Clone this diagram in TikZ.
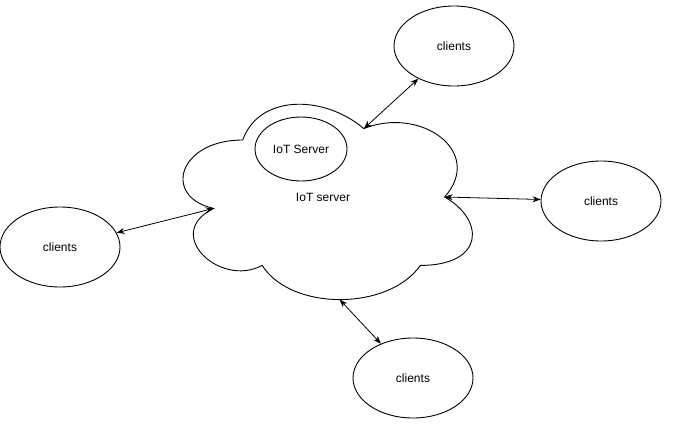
\documentclass[tikz,border=0pt]{standalone}
\usepackage{fontspec}
\setmainfont{Liberation Sans}
\usetikzlibrary{shapes.geometric,arrows.meta}
\begin{document}
\begin{tikzpicture}[x=1pt,y=-1pt,line width=0.9pt,
  client/.style={ellipse,draw,minimum width=120pt,minimum height=80pt,inner sep=0pt,font=\fontsize{12}{14}\selectfont},
  link/.style={{Stealth[length=8pt,width=6pt]}-{Stealth[length=8pt,width=6pt]},line width=0.8pt}]
\useasboundingbox (0,0) rectangle (682,434);
% cloud bounding box x0=162, y0=83, w=323, h=228
\begin{scope}[shift={(162,83)},x=323pt,y=-228pt]
\draw (0.25,0.25) .. controls (0.05,0.25) and (0,0.5) .. (0.16,0.55)
  .. controls (0,0.66) and (0.18,0.9) .. (0.31,0.8)
  .. controls (0.4,1) and (0.7,1) .. (0.8,0.8)
  .. controls (1,0.8) and (1,0.6) .. (0.875,0.5)
  .. controls (1,0.3) and (0.8,0.1) .. (0.625,0.2)
  .. controls (0.5,0.05) and (0.3,0.05) .. (0.25,0.25) -- cycle;
\coordinate (ctop) at (0.625,0.2);
\coordinate (cright) at (0.875,0.5);
\coordinate (cleft) at (0.16,0.55);
\coordinate (cbottom) at (0.55,0.95);
\end{scope}
\node[ellipse,draw,minimum width=92pt,minimum height=64pt,inner sep=0pt,font=\fontsize{12}{14}\selectfont] (srv) at (301,149) {IoT Server};
\node[font=\fontsize{12}{14}\selectfont] (cloudlabel) at (323,197) {IoT server};
\node[client] (c1) at (454,46) {clients};
\node[client] (c2) at (601,201) {clients};
\node[client] (c3) at (60,247) {clients};
\node[client] (c4) at (413,378) {clients};
\draw[link] (ctop) -- (c1);
\draw[link] (cright) -- (c2);
\draw[link] (cleft) -- (c3);
\draw[link] (cbottom) -- (c4);
\end{tikzpicture}
\end{document}
